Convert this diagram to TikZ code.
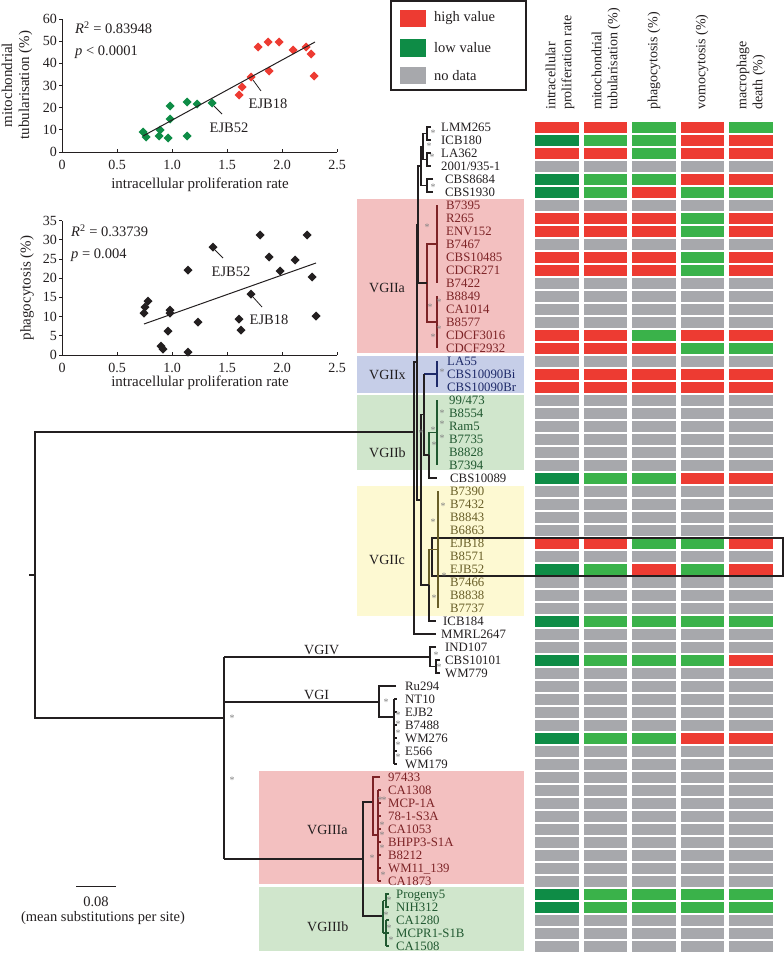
\documentclass[tikz,border=0pt]{standalone}
\usepackage{fontspec}
\setmainfont{Liberation Serif}
\definecolor{hr}{RGB}{237,59,50}
\definecolor{hd}{RGB}{14,140,70}
\definecolor{hg}{RGB}{58,178,74}
\definecolor{hgy}{RGB}{167,168,172}
\definecolor{bgA}{RGB}{243,192,192}
\definecolor{bgX}{RGB}{198,206,232}
\definecolor{bgB}{RGB}{208,230,204}
\definecolor{bgC}{RGB}{253,249,210}
\definecolor{cA}{RGB}{125,35,38}
\definecolor{cX}{RGB}{30,42,105}
\definecolor{cB}{RGB}{32,88,48}
\definecolor{cC}{RGB}{105,95,40}
\definecolor{ink}{RGB}{35,31,32}
\definecolor{astc}{RGB}{130,130,130}
\newcommand\mytx[4]{\node[taxon,text=#3] (tx#1) at (#2,{127+13*(#1-1)+4.4}) {#4};}
\tikzset{
  tl/.style={line width=1.1pt, draw=ink},
  taxon/.style={font=\fontsize{12.8}{13}\selectfont, inner sep=0pt, anchor=base west},
  ast/.style={font=\fontsize{10}{10}\selectfont, text=astc, inner sep=0pt},
  clade/.style={font=\fontsize{14}{14}\selectfont, inner sep=0pt, anchor=base west, text=ink},
  hdr/.style={rotate=90, anchor=west, align=left, inner sep=0pt, font=\fontsize{14}{16}\selectfont, text=ink},
  leg/.style={anchor=west, inner sep=0pt, font=\fontsize{14.5}{15}\selectfont, text=ink},
  ptext/.style={inner sep=0pt, font=\fontsize{14.5}{15}\selectfont, text=ink},
  tick/.style={inner sep=0pt, font=\fontsize{14}{14}\selectfont, text=ink},
  axlab/.style={inner sep=0pt, font=\fontsize{15}{17}\selectfont, text=ink, align=center},
  axisl/.style={line width=0.9pt, draw=ink},
  lead/.style={line width=0.8pt, draw=ink},
}
\begin{document}
\begin{tikzpicture}[x=1pt,y=-1pt]
\useasboundingbox (0,0) rectangle (784,953);

% ---------- clade backgrounds ----------
\fill[bgA] (357,199) rectangle (524,353);
\fill[bgX] (357,356) rectangle (524,393);
\fill[bgB] (357,395) rectangle (524,470);
\fill[bgC] (357,486) rectangle (524,616);
\fill[bgA] (259,771) rectangle (524,884);
\fill[bgB] (259,887) rectangle (524,951);

% ---------- clade labels ----------
\node[clade] (lA) at (369,292.5) {VGIIa};
\node[clade] (lX) at (369,379.5) {VGIIx};
\node[clade] (lB) at (369,457.5) {VGIIb};
\node[clade] (lC) at (369,564.5) {VGIIc};
\node[clade] (lIIIa) at (307,834.5) {VGIIIa};
\node[clade] (lIIIb) at (307,931.5) {VGIIIb};
\node[clade] (lIV) at (304,654) {VGIV};
\node[clade] (lI) at (304,699) {VGI};

% ---------- heatmap ----------
\foreach \i in {1,...,64}
  \foreach \c in {0,...,4}
    \fill[hgy] ({535+48.5*\c},{121.5+13*(\i-1)}) rectangle +(43.5,11);
\foreach \i/\a/\b/\c/\d/\e in {
  1/hr/hr/hg/hr/hg, 2/hd/hg/hg/hr/hr, 3/hr/hr/hg/hr/hr, 5/hd/hg/hg/hr/hr,
  6/hd/hg/hr/hg/hg, 8/hr/hr/hr/hg/hr, 9/hr/hr/hr/hg/hr, 11/hr/hr/hr/hg/hr,
  12/hr/hr/hr/hg/hr, 17/hr/hr/hg/hr/hr, 18/hr/hr/hr/hg/hg, 20/hr/hr/hr/hr/hr,
  21/hr/hr/hr/hr/hr, 28/hd/hg/hg/hr/hr, 33/hr/hr/hg/hg/hr, 35/hd/hg/hr/hg/hr,
  39/hd/hg/hg/hg/hg, 42/hd/hg/hg/hg/hr, 48/hd/hg/hg/hr/hr, 60/hd/hg/hg/hg/hg,
  61/hd/hg/hg/hg/hg}{
  \fill[\a] (535,{121.5+13*(\i-1)}) rectangle +(43.5,11);
  \fill[\b] (583.5,{121.5+13*(\i-1)}) rectangle +(43.5,11);
  \fill[\c] (632,{121.5+13*(\i-1)}) rectangle +(43.5,11);
  \fill[\d] (680.5,{121.5+13*(\i-1)}) rectangle +(43.5,11);
  \fill[\e] (729,{121.5+13*(\i-1)}) rectangle +(43.5,11);
}
\draw[line width=1.3pt, draw=ink] (432,538) rectangle (783,576);

% ---------- headers ----------
\node[hdr] (h1) at (560,110) {intracellular\\proliferation rate};
\node[hdr] (h2) at (606,110) {mitochondrial\\tubularisation (\%)};
\node[hdr] (h3) at (654,110) {phagocytosis (\%)};
\node[hdr] (h4) at (702,110) {vomocytosis (\%)};
\node[hdr] (h5) at (751,110) {macrophage\\death (\%)};

% ---------- legend ----------
\draw[line width=1.2pt, draw=ink] (391,1) rectangle (526,90);
\fill[hr] (400,10) rectangle (426,27);
\fill[hd] (400,39) rectangle (426,57);
\fill[hgy] (400,67) rectangle (426,84);
\node[leg] (lg1) at (434,18.5) {high value};
\node[leg] (lg2) at (434,48) {low value};
\node[leg] (lg3) at (434,75.5) {no data};

% ---------- taxa ----------
\mytx{1}{441}{ink}{LMM265}
\mytx{2}{441}{ink}{ICB180}
\mytx{3}{441}{ink}{LA362}
\mytx{4}{441}{ink}{2001/935-1}
\mytx{5}{445}{ink}{CBS8684}
\mytx{6}{445}{ink}{CBS1930}
\mytx{7}{446}{cA}{B7395}
\mytx{8}{446}{cA}{R265}
\mytx{9}{446}{cA}{ENV152}
\mytx{10}{446}{cA}{B7467}
\mytx{11}{446}{cA}{CBS10485}
\mytx{12}{446}{cA}{CDCR271}
\mytx{13}{446}{cA}{B7422}
\mytx{14}{446}{cA}{B8849}
\mytx{15}{446}{cA}{CA1014}
\mytx{16}{446}{cA}{B8577}
\mytx{17}{446}{cA}{CDCF3016}
\mytx{18}{446}{cA}{CDCF2932}
\mytx{19}{447}{cX}{LA55}
\mytx{20}{447}{cX}{CBS10090Bi}
\mytx{21}{447}{cX}{CBS10090Br}
\mytx{22}{449}{cB}{99/473}
\mytx{23}{449}{cB}{B8554}
\mytx{24}{449}{cB}{Ram5}
\mytx{25}{449}{cB}{B7735}
\mytx{26}{449}{cB}{B8828}
\mytx{27}{449}{cB}{B7394}
\mytx{28}{450}{ink}{CBS10089}
\mytx{29}{450}{cC}{B7390}
\mytx{30}{450}{cC}{B7432}
\mytx{31}{450}{cC}{B8843}
\mytx{32}{450}{cC}{B6863}
\mytx{33}{450}{cC}{EJB18}
\mytx{34}{450}{cC}{B8571}
\mytx{35}{450}{cC}{EJB52}
\mytx{36}{450}{cC}{B7466}
\mytx{37}{450}{cC}{B8838}
\mytx{38}{450}{cC}{B7737}
\mytx{39}{443}{ink}{ICB184}
\mytx{40}{441}{ink}{MMRL2647}
\mytx{41}{445}{ink}{IND107}
\mytx{42}{445}{ink}{CBS10101}
\mytx{43}{445}{ink}{WM779}
\mytx{44}{405}{ink}{Ru294}
\mytx{45}{405}{ink}{NT10}
\mytx{46}{405}{ink}{EJB2}
\mytx{47}{405}{ink}{B7488}
\mytx{48}{405}{ink}{WM276}
\mytx{49}{405}{ink}{E566}
\mytx{50}{405}{ink}{WM179}
\mytx{51}{388}{cA}{97433}
\mytx{52}{388}{cA}{CA1308}
\mytx{53}{388}{cA}{MCP-1A}
\mytx{54}{388}{cA}{78-1-S3A}
\mytx{55}{388}{cA}{CA1053}
\mytx{56}{388}{cA}{BHPP3-S1A}
\mytx{57}{388}{cA}{B8212}
\mytx{58}{388}{cA}{WM11\_139}
\mytx{59}{388}{cA}{CA1873}
\mytx{60}{396}{cB}{Progeny5}
\mytx{61}{396}{cB}{NIH312}
\mytx{62}{396}{cB}{CA1280}
\mytx{63}{396}{cB}{MCPR1-S1B}
\mytx{64}{396}{cB}{CA1508}

% ---------- tree: VGII ----------
\draw[tl] (431,127) -- (427,127) -- (427,140) -- (431,140);
\draw[tl] (431,153) -- (427,153) -- (427,166) -- (431,166);
\draw[tl] (427,133.5) -- (423,133.5) -- (423,159.5) -- (427,159.5);
\draw[tl] (433,179) -- (427,179) -- (427,192) -- (433,192);
\draw[tl] (423,146.5) -- (421,146.5) -- (421,185.5) -- (427,185.5);
\draw[tl, draw=cA] (437,205) -- (437,283);
\draw[tl, draw=cA] (437,296) -- (437,348);
\draw[tl, draw=cA] (437,244) -- (427,244) -- (427,322) -- (437,322);
\draw[tl] (421,166) -- (418,166) -- (418,283) -- (427,283);
\draw[tl, draw=cX] (437,361) -- (437,387);
\draw[tl, draw=cX] (424,374) -- (437,374);
\draw[tl, draw=cB] (437,400) -- (437,465);
\draw[tl, draw=cB] (437,432.5) -- (429,432.5) -- (429,455);
\draw[tl] (429,455) -- (429,478) -- (437,478);
\draw[tl] (424,374) -- (424,455) -- (429,455);
\draw[tl, draw=cC] (438,491) -- (438,608);
\draw[tl, draw=cC] (438,549.5) -- (429,549.5) -- (429,585);
\draw[tl] (429,585) -- (429,621) -- (436,621);
\draw[tl] (424,414.5) -- (421,414.5) -- (421,585) -- (429,585);
\draw[tl] (418,224.5) -- (417,224.5) -- (417,500) -- (421,500);
\draw[tl] (417,362) -- (414,362) -- (414,634) -- (436,634);

% ---------- tree: root and lower groups ----------
\draw[tl] (414,432) -- (35,432) -- (35,718) -- (224,718);
\draw[tl] (29,575) -- (35,575);
\draw[tl] (224,657) -- (224,859);
\draw[tl] (224,657) -- (430,657);
\draw[tl] (436,647) -- (430,647) -- (430,666.5) -- (436,666.5);
\draw[tl] (440,660) -- (436,660) -- (436,673) -- (440,673);
\draw[tl] (224,702) -- (379,702);
\draw[tl] (396,686) -- (379,686) -- (379,717) -- (394,717);
\draw[tl] (394,699) -- (394,764);
\foreach \r in {699,712,725,738,751,764} \draw[tl] (394,\r) -- (397,\r);
\draw[tl] (224,859) -- (363,859);
\draw[tl] (373,802) -- (363,802) -- (363,916) -- (383,916);
\draw[tl, draw=cA] (380,777) -- (373,777) -- (373,835) -- (378,835);
\draw[tl, draw=cA] (378,790) -- (378,881);
\foreach \r in {790,803,816,829,842,855,868,881} \draw[tl, draw=cA] (378,\r) -- (381,\r);
\draw[tl, draw=cB] (383,900.5) -- (383,933);
\draw[tl, draw=cB] (383,900.5) -- (386,900.5);
\draw[tl, draw=cB] (389,894) -- (386,894) -- (386,907) -- (389,907);
\draw[tl, draw=cB] (383,933) -- (386,933);
\draw[tl, draw=cB] (386,920) -- (386,946);
\foreach \r in {920,933,946} \draw[tl, draw=cB] (386,\r) -- (389,\r);

% ---------- support asterisks ----------
\foreach \p [count=\k] in {(433,133),(429,146),(432,157),(433,187),(427,227),(439,302),(430,307),(439,329),(433,337),(442,372),(442,413),(442,424),(442,438),(433,430),(434,445),(421,433),(443,506),(433,522),(444,576),(434,598),(436,655),(439,667),(386,702),(398,715),(398,724),(398,733),(398,745),(398,757),(232,718),(232,780),(380,800),(384,800),(382,825),(382,835),(382,848),(372,858),(383,875),(389,900),(386,915),(389,928),(391,940)}
  \node[ast] (as\k) at \p {*};

% ---------- scale bar ----------
\draw[line width=1pt, draw=ink] (76,886) -- (116,886);
\node[ptext] (sb) at (96,902) {0.08};
\node[ptext] (sbt) at (103,918) {(mean substitutions per site)};

% ---------- scatter plot 1 ----------
\draw[axisl] (62,19) -- (62,152) -- (337,152);
\foreach \k/\lab in {0/0,1/0.5,2/1.0,3/1.5,4/2.0,5/2.5} {
  \draw[axisl] ({62+55*\k},152) -- ++(0,-3);
  \node[tick] (pax\k) at ({62+55*\k},165) {\lab};
}
\foreach \k/\lab in {0/0,1/10,2/20,3/30,4/40,5/50,6/60} {
  \draw[axisl] (62,{152-22.17*\k}) -- ++(-3,0);
  \node[tick, anchor=east] (pay\k) at (57,{152-22.17*\k}) {\lab};
}
\foreach \p in {(258,47),(268,42),(279,42),(293,50),(306,47),(311,54),(314,76),(269,71),(251,77),(242,87),(239,95)}
  \fill[hr] \p +(0,-4.5) -- +(4.5,0) -- +(0,4.5) -- +(-4.5,0) -- cycle;
\foreach \p in {(143,132),(146,137),(159,136),(160,130),(168,138),(170,119),(170,106),(187,102),(197,104),(212,103),(187,136)}
  \fill[hd] \p +(0,-4.5) -- +(4.5,0) -- +(0,4.5) -- +(-4.5,0) -- cycle;
\draw[line width=1pt, draw=ink] (143,136) -- (315,42);
\node[ptext, anchor=west] (r2a) at (75,28) {\textit{R}\textsuperscript{2} = 0.83948};
\node[ptext, anchor=west] (pva) at (75,52) {\textit{p} < 0.0001};
\node[ptext] (e18a) at (268,104) {EJB18};
\draw[lead] (253,80) -- (261,91);
\node[ptext] (e52a) at (229,128) {EJB52};
\draw[lead] (214,106) -- (222,114);
\node[axlab] (xla) at (200,185) {intracellular proliferation rate};
\node[axlab, rotate=90] (yla) at (17,85) {mitochondrial\\tubularisation (\%)};

% ---------- scatter plot 2 ----------
\draw[axisl] (62,221) -- (62,355) -- (337,355);
\foreach \k/\lab in {0/0,1/0.5,2/1.0,3/1.5,4/2.0,5/2.5} {
  \draw[axisl] ({62+55*\k},355) -- ++(0,-3);
  \node[tick] (pbx\k) at ({62+55*\k},368) {\lab};
}
\foreach \k/\lab in {0/0,1/5,2/10,3/15,4/20,5/25,6/30,7/35} {
  \draw[axisl] (62,{355-19.2*\k}) -- ++(-3,0);
  \node[tick, anchor=east] (pby\k) at (57,{355-19.2*\k}) {\lab};
}
\foreach \p in {(144,313),(145,307),(148,301),(170,310),(170,313),(168,331),(161,346),(163,349),(188,352),(188,270),(198,322),(213,247),(239,319),(241,330),(251,294),(260,235),(269,257),(280,271),(295,260),(307,235),(312,277),(316,316)}
  \fill[ink] \p +(0,-4.5) -- +(4.5,0) -- +(0,4.5) -- +(-4.5,0) -- cycle;
\draw[line width=1pt, draw=ink] (144,324) -- (316,263);
\node[ptext, anchor=west] (r2b) at (71,231) {\textit{R}\textsuperscript{2} = 0.33739};
\node[ptext, anchor=west] (pvb) at (71,255) {\textit{p} = 0.004};
\node[ptext] (e52b) at (231,272) {EJB52};
\draw[lead] (215,250) -- (223,258);
\node[ptext] (e18b) at (269,320) {EJB18};
\draw[lead] (253,297) -- (262,307);
\node[axlab] (xlb) at (200,383) {intracellular proliferation rate};
\node[axlab, rotate=90] (ylb) at (27,288) {phagocytosis (\%)};
\end{tikzpicture}
\end{document}
